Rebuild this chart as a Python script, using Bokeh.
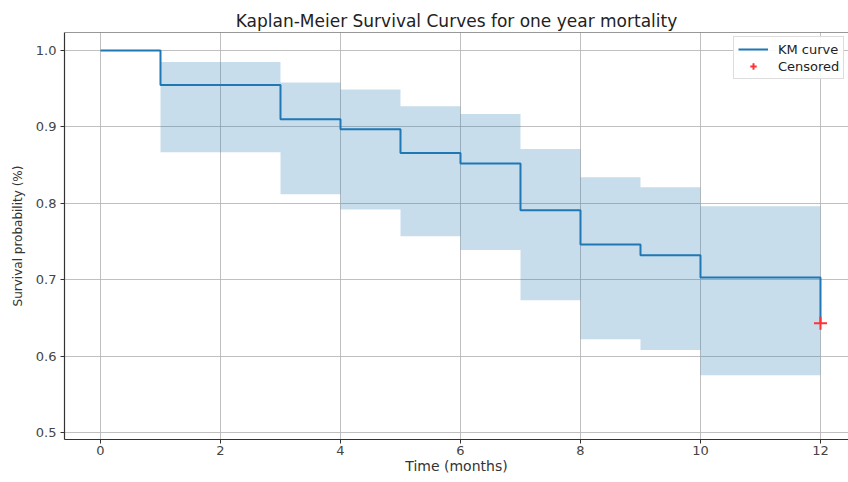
from bokeh.plotting import figure
from bokeh.models import Range1d, FixedTicker, Span, Legend, LegendItem, PrintfTickFormatter, ColumnDataSource
from bokeh.embed import file_html
from bokeh.resources import INLINE

# Data
time = [0, 1, 3, 4, 5, 6, 7, 8, 9, 10, 12]
surv = [1.0, 0.955, 0.910, 0.897, 0.866, 0.852, 0.791, 0.746, 0.732, 0.703, 0.643]
ci_lower = [1.0, 0.867, 0.812, 0.792, 0.757, 0.739, 0.673, 0.622, 0.608, 0.575, 0.516]
ci_upper = [1.0, 0.985, 0.958, 0.949, 0.927, 0.917, 0.871, 0.834, 0.821, 0.796, 0.770]
censor_time = [12]
censor_surv = [0.643]
x_ticks = [0, 2, 4, 6, 8, 10, 12]
y_ticks = [0.5, 0.6, 0.7, 0.8, 0.9, 1.0]

FONT = "DejaVu Sans"
BLUE = "#1f77b4"

src = ColumnDataSource(dict(t=time, s=surv, lo=ci_lower, hi=ci_upper))

p = figure(width=848, height=482, output_backend="svg", toolbar_location=None,
           x_range=Range1d(-0.6, 12.467), y_range=Range1d(0.4908, 1.0236),
           min_border_left=64, min_border_right=0, min_border_bottom=43, min_border_top=32,
           title="Kaplan-Meier Survival Curves for one year mortality")

p.title.text_font = FONT
p.title.text_font_size = "17px"
p.title.text_font_style = "normal"
p.title.text_color = "#222222"
p.title.align = "center"
p.title.standoff = 4

p.outline_line_color = None
p.background_fill_color = "white"
p.border_fill_color = "white"

p.varea_step(x="t", y1="lo", y2="hi", source=src, step_mode="after",
             fill_color=BLUE, fill_alpha=0.25)
km = p.step(x="t", y="s", source=src, mode="after", line_color=BLUE, line_width=2)
cens = p.scatter(x=censor_time, y=censor_surv, marker="cross", size=13,
                 line_color="#ff3333", line_width=2)

top_spine = Span(location=1.0236, dimension="width", line_color="#333333", line_width=1.2)
p.add_layout(top_spine)

for ax in (p.xaxis[0], p.yaxis[0]):
    ax.axis_line_color = "#333333"
    ax.axis_line_width = 1.2
    ax.major_tick_line_color = "#333333"
    ax.major_tick_out = 4
    ax.major_tick_in = 0
    ax.minor_tick_line_color = None
    ax.major_label_text_font = FONT
    ax.major_label_text_font_size = "13px"
    ax.major_label_text_color = "#444444"
    ax.axis_label_text_font = FONT
    ax.axis_label_text_font_style = "normal"
    ax.axis_label_text_color = "#333333"

p.xaxis.axis_label_text_font_size = "14px"
p.yaxis.axis_label_text_font_size = "12px"
p.xaxis.ticker = FixedTicker(ticks=x_ticks)
p.yaxis.ticker = FixedTicker(ticks=y_ticks)
p.yaxis.formatter = PrintfTickFormatter(format="%.1f")
p.xaxis.axis_label = "Time (months)"
p.yaxis.axis_label = "Survival probability (%)"
p.xaxis.major_label_standoff = 2
p.xaxis.axis_label_standoff = 0
p.yaxis.major_label_standoff = 4
p.yaxis.axis_label_standoff = 8

p.grid.grid_line_color = "#b0b0b0"
p.grid.grid_line_alpha = 0.8
p.grid.grid_line_width = 1

legend = Legend(items=[LegendItem(label="KM curve", renderers=[km]),
                       LegendItem(label="Censored", renderers=[cens])],
                location=(669, 360), margin=0)
legend.label_text_font = FONT
legend.label_text_font_size = "13px"
legend.label_text_color = "#222222"
legend.border_line_color = "#dddddd"
legend.border_line_alpha = 1.0
legend.background_fill_alpha = 0.9
legend.glyph_width = 30
legend.glyph_height = 16
legend.label_height = 16
legend.spacing = 1
legend.padding = 4
legend.label_standoff = 10
p.add_layout(legend)

open("out.html", "w").write(file_html(p, INLINE))
